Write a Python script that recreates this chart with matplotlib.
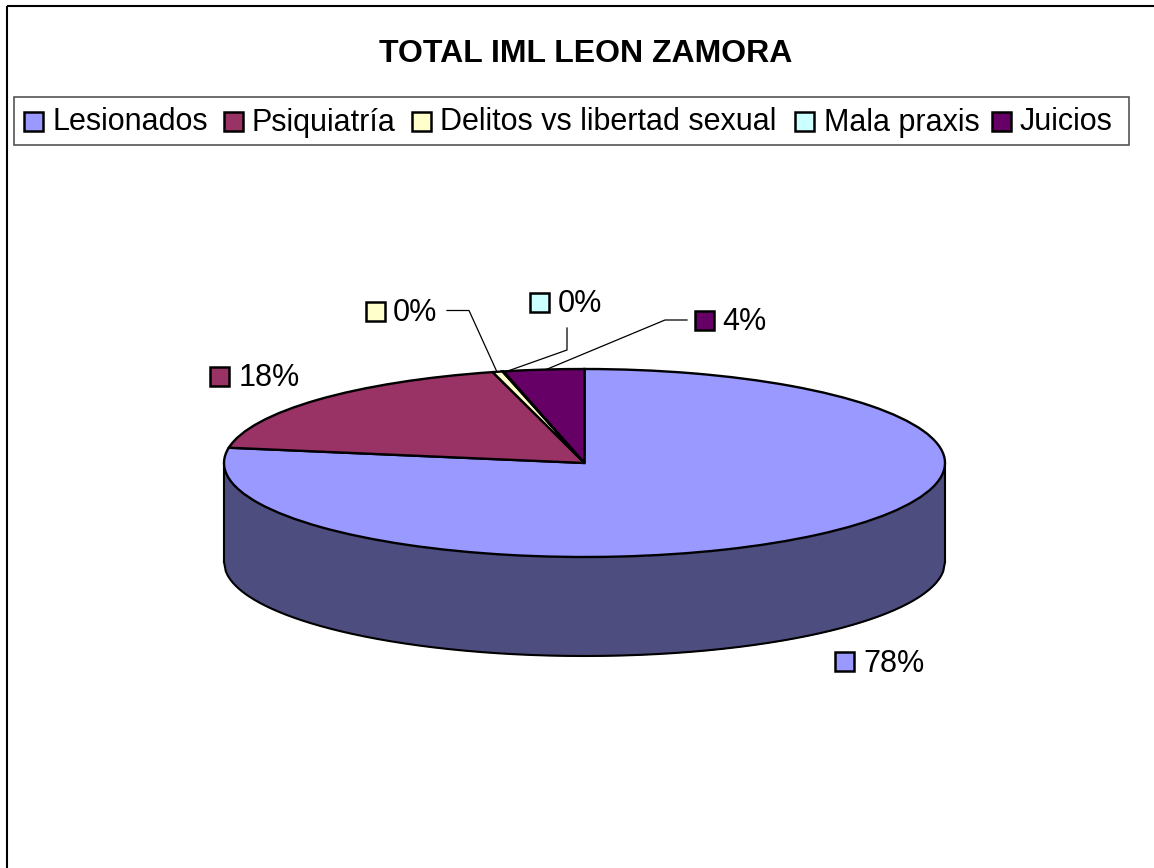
import numpy as np
import matplotlib
matplotlib.use("Agg")
import matplotlib.pyplot as plt
from matplotlib.patches import Rectangle

plt.rcParams['font.family'] = ['Liberation Sans', 'DejaVu Sans']

# Data
title = "TOTAL IML LEON ZAMORA"
categories = ["Lesionados", "Psiquiatría", "Delitos vs libertad sexual", "Mala praxis", "Juicios"]
values = [77.6, 18.3, 0.45, 0.05, 3.6]
colors = ["#9999FF", "#993366", "#FFFFCC", "#CCFFFF", "#660066"]
side_color = "#4D4D80"

W, H = 1154, 868
# pie geometry in pixels
cx, cy, rx, ry, depth = 584.5, 463, 360.5, 94, 99

fig = plt.figure(figsize=(W / 100, H / 100), dpi=100)
fig.patch.set_facecolor("white")

# pie axes: x and y units differ, so the circle comes out as an ellipse
ax = fig.add_axes([0, 0, 1, 1])
ax.pie(values, colors=colors, startangle=90, counterclock=False, radius=1,
       wedgeprops=dict(edgecolor="black", linewidth=1.7))
ax.set_aspect("auto")
ax.set_xlim(-cx / rx, (W - cx) / rx)
ax.set_ylim((cy - H) / ry, cy / ry)

# side of the cylinder
xs = np.linspace(-1, 1, 400)
front = -np.sqrt(1 - xs ** 2)
d = depth / ry
ax.fill_between(xs, front, front - d, color=side_color, zorder=0.5, linewidth=0)
ax.plot(xs, front - d, color="black", lw=1.5, zorder=0.6)
ax.plot([-1, -1], [0, -d], color="black", lw=1.5, zorder=0.6)
ax.plot([1, 1], [0, -d], color="black", lw=1.5, zorder=0.6)

# overlay in pixel coordinates for frame, legend and labels
ov = fig.add_axes([0, 0, 1, 1])
ov.set_xlim(0, W)
ov.set_ylim(H, 0)
ov.axis("off")
ov.patch.set_alpha(0)

ov.add_patch(Rectangle((6.5, 5.5), W + 20, H + 20, fill=False, edgecolor="black", lw=1.5))
ov.text(585.5, 54, title, fontsize=23, fontweight="bold", ha="center", va="center")


def swatch(x, y, col, size=19):
    ov.add_patch(Rectangle((x, y), size, size, facecolor=col, edgecolor="black", lw=1.8, zorder=3))


# legend
ov.add_patch(Rectangle((13.5, 96.5), 1115.5, 48, facecolor="white", edgecolor="#555555", lw=1.2))
legend_sw = [23.5, 223.5, 412, 795, 992]
legend_tx = [52.5, 252, 440.5, 823.5, 1020]
for name, col, sx, tx in zip(categories, colors, legend_sw, legend_tx):
    swatch(sx, 111.5, col)
    ov.text(tx, 122.5, name, fontsize=22, ha="left", va="center")

# data labels
labels = ["%.0f%%" % v for v in values]
label_sw = [(834.5, 651.5), (209.5, 367), (366, 302), (530, 293), (695, 311)]
label_tx = [(863, 664), (239, 378), (393, 313), (558, 304), (722, 322)]
for lab, col, s, t in zip(labels, colors, label_sw, label_tx):
    swatch(s[0], s[1], col)
    ov.text(t[0], t[1], lab, fontsize=22, ha="left", va="center")

# leader lines
ov.plot([447, 469, 497], [310.5, 310.5, 372], color="black", lw=0.9)
ov.plot([567, 567, 505], [328, 350, 372], color="black", lw=0.9)
ov.plot([687, 665, 545], [320, 320, 370], color="black", lw=0.9)

fig.savefig("out.png", dpi=100)
